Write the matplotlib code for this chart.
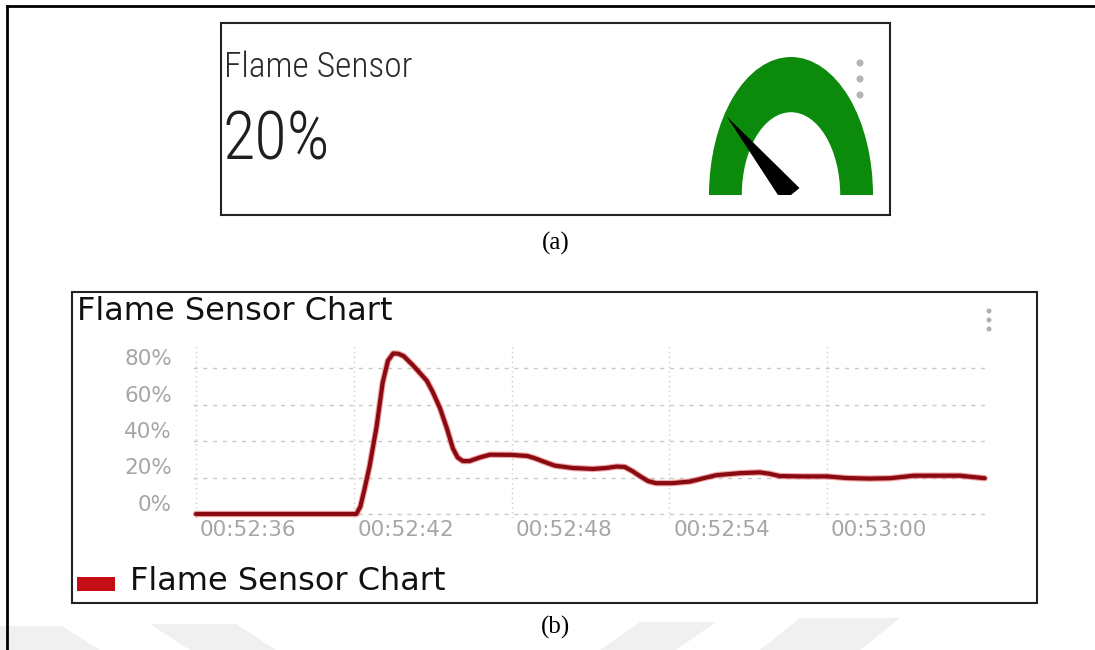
import numpy as np
import matplotlib
matplotlib.use("Agg")
import matplotlib.pyplot as plt
from matplotlib.patches import Wedge, Polygon, Rectangle, Circle

W, H = 1095, 650

# ---- gauge card ----
gauge_title = "Flame Sensor"
gauge_value = 20          # percent
gauge_text = f"{gauge_value}%"

# ---- history chart: seconds after 00:52:00 and flame level in percent ----
chart_title = "Flame Sensor Chart"
seconds = [36.0, 42.1, 42.25, 42.4, 42.6, 42.87, 43.1, 43.3, 43.5, 43.7,
           43.9, 44.25, 44.5, 44.78, 45.0, 45.28, 45.54, 45.77, 45.95, 46.15,
           46.4, 46.8, 47.18, 48.0, 48.6, 48.9, 49.2, 49.65, 50.33, 51.1,
           51.6, 52.0, 52.3, 52.6, 52.9, 53.2, 53.5, 54.1, 54.8, 55.3,
           55.8, 56.7, 57.45, 57.8, 58.2, 59.1, 60.0, 60.75, 61.6, 62.4,
           63.3, 64.2, 65.05, 66.0]
levels = [0, 0, 4, 13, 26, 48, 72, 84, 88, 87.8,
          86.5, 81.5, 77.5, 73, 67, 58, 47, 36, 31, 29,
          29, 31, 32.5, 32.4, 31.8, 30.5, 28.8, 26.5, 25.2, 24.7,
          25.2, 26, 25.8, 23.5, 20.6, 18, 16.9, 16.9, 17.8, 19.6,
          21.3, 22.4, 22.8, 22.1, 20.8, 20.6, 20.6, 19.7, 19.4, 19.6,
          21, 21, 21, 19.6]
x_ticks = [36, 42, 48, 54, 60]
x_labels = ["00:52:36", "00:52:42", "00:52:48", "00:52:54", "00:53:00"]
y_ticks = [0, 20, 40, 60, 80]
y_labels = ["0%", "20%", "40%", "60%", "80%"]

NARROW = ["Roboto Condensed", "Liberation Sans Narrow", "DejaVu Sans Condensed", "Liberation Sans"]
WIDE = ["DejaVu Sans"]
SERIF = ["Liberation Serif", "DejaVu Serif"]

fig = plt.figure(figsize=(W / 100, H / 100), dpi=100)
fig.patch.set_facecolor("white")


def px_axes(x0, y0, x1, y1):
    """Axes placed by pixel box (top-left origin)."""
    return fig.add_axes([x0 / W, 1 - y1 / H, (x1 - x0) / W, (y1 - y0) / H])


# full-figure overlay in pixel coordinates
ov = fig.add_axes([0, 0, 1, 1])
ov.set_xlim(0, W)
ov.set_ylim(H, 0)
ov.axis("off")

# faint page watermark strokes along the bottom edge
for pts in ([(0, 626), (62, 626), (100, 650), (0, 650)],
            [(150, 624), (236, 624), (276, 650), (190, 650)],
            [(600, 650), (640, 622), (716, 622), (676, 650)],
            [(760, 650), (800, 618), (900, 618), (860, 650)]):
    ov.add_patch(Polygon(pts, closed=True, color="#f0f0f0", lw=0, zorder=0))

# page frame (left and top rule)
ov.plot([7, 7], [H + 5, 6], color="black", lw=2.0, solid_capstyle="projecting", clip_on=False)
ov.plot([7, W + 5], [6, 6], color="black", lw=2.0, solid_capstyle="projecting", clip_on=False)

# ---- card (a) ----
ov.add_patch(Rectangle((221, 23), 669, 192, fill=False, ec="#222222", lw=1.5))
ov.text(224, 77, gauge_title, family=NARROW, fontweight="light", fontsize=25.5,
        color="#2a2a2a", ha="left", va="baseline")
ov.text(222, 160, gauge_text, family=NARROW, fontweight="light", fontsize=48,
        color="#1e1e1e", ha="left", va="baseline")
for yy in (63, 79, 95):
    ov.add_patch(Circle((860, yy), 3.5, color="#b4b4b4", lw=0))

# gauge drawn in its own axes so the half ring follows the card's stretch
sx, sy = 82.0, 138.0           # pixel radii of the ring (horizontal, vertical)
gx = px_axes(791 - sx, 195 - sy, 791 + sx, 195)
gx.set_xlim(-1, 1)
gx.set_ylim(0, 1)
gx.axis("off")
gx.add_patch(Wedge((0, 0), 1.0, 0, 180, width=0.4, color="#0b8a0b", lw=0))
theta = np.pi * (1 - gauge_value / 100)
r_tip = 0.97
tip = np.array([r_tip * np.cos(theta), r_tip * np.sin(theta)])
d = np.array([tip[0] * sx, tip[1] * sy])
d /= np.hypot(*d)
perp = np.array([-d[1], d[0]])
half_w = 11.0
b1 = np.array([perp[0] * half_w / sx, perp[1] * half_w / sy])
gx.add_patch(Polygon([tip, b1, -b1], closed=True, color="black", lw=0))

ov.text(556, 243, "(a)", family=SERIF, fontsize=18, ha="center", va="center")

# ---- card (b) ----
ov.add_patch(Rectangle((72, 292), 1037 - 72, 603 - 292, fill=False, ec="#222222", lw=1.5))
ov.text(77, 320, chart_title, family=WIDE, fontsize=23, color="#111111",
        ha="left", va="baseline")
for yy in (311, 320, 329):
    ov.add_patch(Circle((989, yy), 2.5, color="#b0b0b0", lw=0))

# legend entry
ov.add_patch(Rectangle((77, 577), 38, 14, color="#c40d14", lw=0))
ov.text(130, 590, chart_title, family=WIDE, fontsize=23, color="#111111",
        ha="left", va="baseline")

ov.text(556, 627, "(b)", family=SERIF, fontsize=18, ha="center", va="center")

# plotting area: 26.29 px per second, 1.825 px per percent
px_per_s, px_per_pct = 157.75 / 6, 1.825
x_left, x_right, y_top, y_bot = 193, 985, 346, 518
ax = px_axes(x_left, y_top, x_right, y_bot)
ax.patch.set_alpha(0)
ax.set_xlim(36 - (196 - x_left) / px_per_s, 36 + (x_right - 196) / px_per_s)
ax.set_ylim(-(y_bot - 514) / px_per_pct, (514 - y_top) / px_per_pct)
for s in ax.spines.values():
    s.set_visible(False)
ax.set_xticks([])
ax.set_yticks([])

for v in y_ticks:
    ax.axhline(v, color="#c9c9c9", lw=1.0, ls=(0, (3, 4)), zorder=1)
for t in x_ticks:
    ax.axvline(t, color="#cdcdcd", lw=1.0, ls=(0, (1, 2.5)), zorder=1)

ax.plot(seconds, levels, color="#e23a3a", lw=4.6, alpha=0.45,
        solid_joinstyle="round", solid_capstyle="round", clip_on=False, zorder=3)
ax.plot(seconds, levels, color="#8a0a12", lw=3.0,
        solid_joinstyle="round", solid_capstyle="round", clip_on=False, zorder=4)

for v, lab in zip(y_ticks, y_labels):
    ax.annotate(lab, xy=(0, v), xycoords=("axes fraction", "data"),
                xytext=(172 - x_left, 9), textcoords="offset pixels",
                ha="right", va="center", family=WIDE, fontsize=15.5,
                color="#a6a6a6", annotation_clip=False)
for t, lab in zip(x_ticks, x_labels):
    ax.annotate(lab, xy=(t, 0), xycoords=("data", "axes fraction"),
                xytext=(4, -(530 - y_bot)), textcoords="offset pixels",
                ha="left", va="center", family=WIDE, fontsize=15.5,
                color="#a6a6a6", annotation_clip=False)

fig.savefig("out.png", dpi=100, facecolor="white")
